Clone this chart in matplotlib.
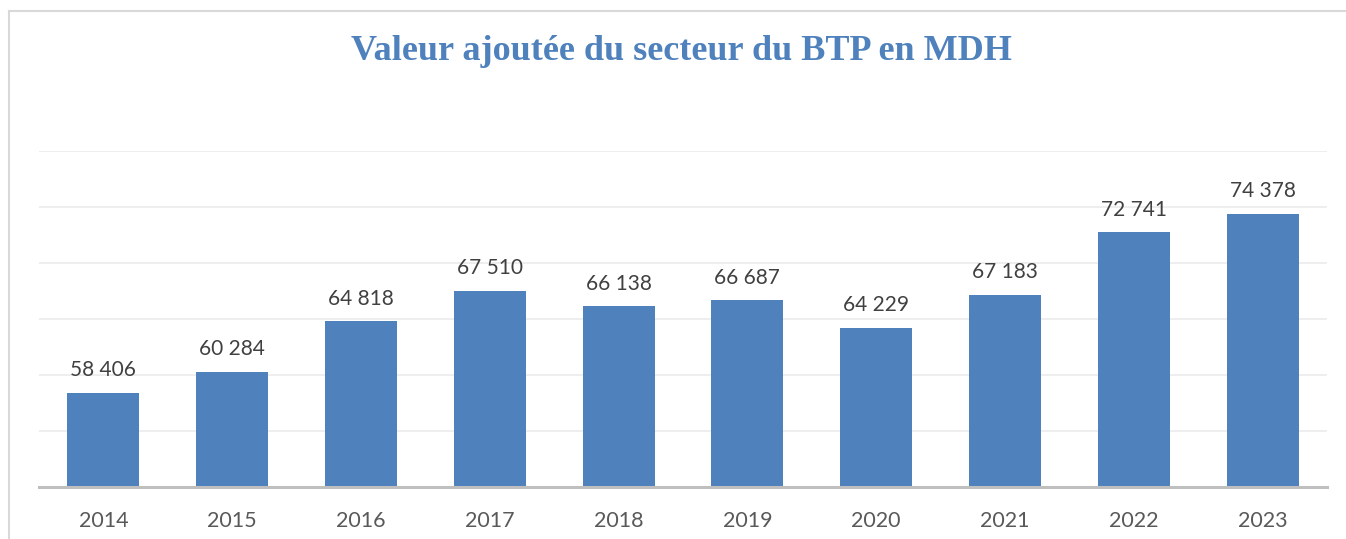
import matplotlib.pyplot as plt
from matplotlib.lines import Line2D

years = ["2014", "2015", "2016", "2017", "2018", "2019", "2020", "2021", "2022", "2023"]
values = [58406, 60284, 64818, 67510, 66138, 66687, 64229, 67183, 72741, 74378]
title = "Valeur ajoutée du secteur du BTP en MDH"


def fmt(v):
    return f"{v:,}".replace(",", " ")


fig = plt.figure(figsize=(13.46, 5.39), dpi=100)
ax = fig.add_axes([39 / 1346, 52 / 539, 1288 / 1346, 336 / 539])

x = range(len(years))
ax.bar(x, values, width=0.56, color="#4F81BD", zorder=3)
for i, v in zip(x, values):
    ax.annotate(fmt(v), (i, v), xytext=(0, 9), textcoords="offset points",
                ha="center", va="bottom", fontsize=15, color="#404040", family="Lato")

ax.set_xlim(-0.5, len(years) - 0.5)
ax.set_ylim(50000, 80000)
ax.set_yticks(range(50000, 80001, 5000))
ax.yaxis.grid(True, color="#EBEBEB", linewidth=1.2, zorder=0)
ax.set_yticklabels([])
ax.tick_params(axis="y", length=0)
ax.set_xticks(list(x))
ax.set_xticklabels(years, fontsize=15.5, color="#595959", family="Lato")
ax.tick_params(axis="x", length=0, pad=17)
for side in ["top", "right", "left"]:
    ax.spines[side].set_visible(False)
ax.spines["bottom"].set_color("#BFBFBF")
ax.spines["bottom"].set_linewidth(2.2)
ax.spines["bottom"].set_zorder(4)

fig.text(681 / 1346, 1 - 51 / 539, title, ha="center", va="center",
         fontsize=26, fontweight="bold", color="#4F81BD", family="Liberation Serif")

# light frame around the chart area
fig.add_artist(Line2D([9 / 1346, 1], [1 - 11 / 539, 1 - 11 / 539], color="#D9D9D9", linewidth=1.5))
fig.add_artist(Line2D([9 / 1346, 9 / 1346], [0, 1 - 11 / 539], color="#D9D9D9", linewidth=1.5))

fig.savefig("out.png", dpi=100)
